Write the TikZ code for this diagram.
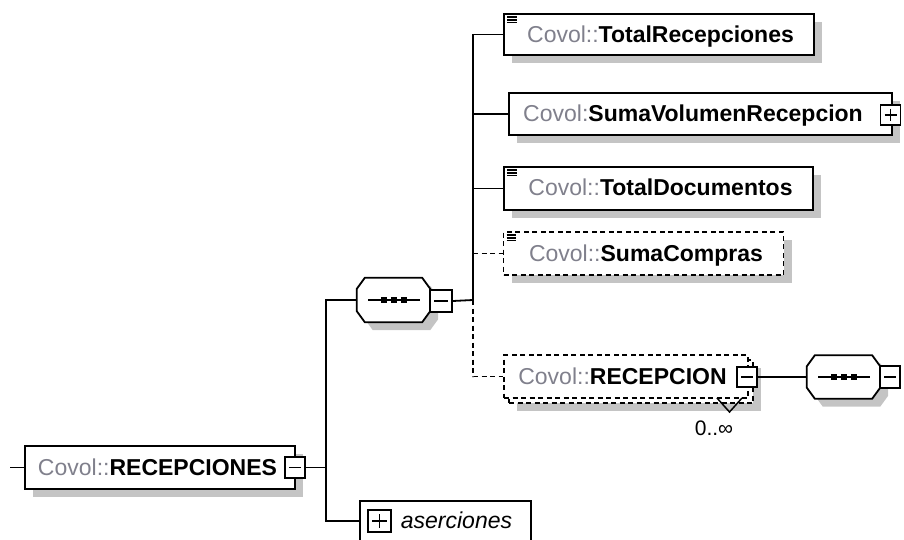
\documentclass[tikz,border=0pt]{standalone}
\usepackage{fontspec}
\setmainfont{Liberation Sans}
\usetikzlibrary{shadows,calc}
\definecolor{covolgray}{RGB}{128,128,140}
\definecolor{shadowgray}{RGB}{196,196,196}
\newcommand\cv[1]{\textcolor{covolgray}{#1}}
\newcommand\octpath[1]{([xshift=8pt]#1.north west) -- ([xshift=-8pt]#1.north east) -- ([yshift=-11pt]#1.north east) -- ([yshift=11pt]#1.south east) -- ([xshift=-8pt]#1.south east) -- ([xshift=8pt]#1.south west) -- ([yshift=11pt]#1.south west) -- ([yshift=-11pt]#1.north west) -- cycle}
\newcommand\seqinside[1]{%
  \draw[line width=1.6pt] ([xshift=-25.5pt]#1.center) -- ([xshift=26.5pt]#1.center);
  \foreach \d in {-9.5,0.5,10.5} \fill ([xshift=\d pt]#1.center) +(-2.9pt,-2.9pt) rectangle +(2.9pt,2.9pt);}
\newcommand\facet[1]{%
  \foreach \d in {4,6.8,9.6} \draw[line width=1.4pt] ([xshift=4pt,yshift=-\d pt]#1.north west) -- ++(9.5pt,0pt);}
\begin{document}
\begin{tikzpicture}[x=1pt,y=-1pt,line join=miter,
  lbl/.style={font=\fontsize{23}{27}\selectfont, inner sep=0, anchor=base},
  elem/.style={draw, fill=white, line width=1.8pt, inner sep=0,
    general shadow={fill=shadowgray, shadow xshift=8pt, shadow yshift=-8pt}},
  optelem/.style={elem, dash pattern=on 5pt off 3.5pt},
  plainelem/.style={draw, fill=white, line width=1.8pt, inner sep=0},
  conn/.style={line width=1.8pt},
  dconn/.style={conn, dash pattern=on 5pt off 3.5pt},
  seqn/.style={inner sep=0, minimum width=73, minimum height=44},
  minusbox/.style={draw, fill=white, line width=1.6pt, inner sep=0, minimum width=20, minimum height=20,
    path picture={\draw[line width=1.6pt] ([xshift=4pt]path picture bounding box.west) -- ([xshift=-4pt]path picture bounding box.east);}},
  plusbox/.style={draw, fill=white, line width=1.6pt, inner sep=0, minimum width=20, minimum height=20,
    path picture={\draw[line width=1.6pt] ([xshift=4pt]path picture bounding box.west) -- ([xshift=-4pt]path picture bounding box.east)
      ([yshift=-4pt]path picture bounding box.north) -- ([yshift=4pt]path picture bounding box.south);}}
]
\useasboundingbox (0,0) rectangle (904,540);

% ---- junctions
\coordinate (start) at (10,467.5);
\coordinate (j1) at (326,467.5);
\coordinate (j2) at (473,300);

% ---- RECEPCIONES
\node[elem, minimum width=270, minimum height=43] (rc) at (160,467.5) {};
\node[lbl] (rct) at (157.5,475.5) {\cv{Covol::}\textbf{RECEPCIONES}};
\node[minusbox, minimum height=21] (rcx) at (295,467.5) {};

% ---- aserciones
\node[plainelem, minimum width=171, minimum height=60, anchor=north west] (as) at (359,500) {};
\node[plusbox, minimum width=23, minimum height=22] (asx) at (379.5,521) {};
\node[lbl, font=\fontsize{23}{27}\selectfont\itshape] (ast) at (456.5,528.5) {aserciones};

% ---- sequence 1
\node[seqn] (s1) at (393.5,300) {};
\fill[shadowgray, transform canvas={shift={(8pt,-8pt)}}] \octpath{s1};
\draw[line width=1.8pt, fill=white] \octpath{s1};
\seqinside{s1}
\node[minusbox, minimum width=22, minimum height=22] (s1x) at (441,301) {};

% ---- children
\node[elem, minimum width=310, minimum height=41] (tr) at (659,34.5) {};
\facet{tr}
\node[lbl] (trt) at (660.5,42.5) {\cv{Covol::}\textbf{TotalRecepciones}};

\node[elem, minimum width=383, minimum height=42] (sv) at (700.5,114) {};
\node[lbl] (svt) at (693,121.5) {\cv{Covol:}\textbf{SumaVolumenRecepcion}};
\node[plusbox] (svx) at (890.5,115) {};

\node[elem, minimum width=309, minimum height=43] (td) at (658.5,188.5) {};
\facet{td}
\node[lbl] (tdt) at (660.5,196) {\cv{Covol::}\textbf{TotalDocumentos}};

\node[optelem, minimum width=280, minimum height=43] (sc) at (643.5,253.5) {};
\facet{sc}
\node[lbl] (sct) at (646,261) {\cv{Covol::}\textbf{SumaCompras}};

% ---- RECEPCION (multiple)
\node[optelem, minimum width=244, minimum height=43] (rb) at (631,381.5) {};
\node[draw, fill=white, line width=1.8pt, dash pattern=on 5pt off 3.5pt, inner sep=0, minimum width=244, minimum height=43] (rf) at (626,376.5) {};
\node[lbl] (rft) at (622.5,384) {\cv{Covol::}\textbf{RECEPCION}};
\node[minusbox] (rfx) at (747,377) {};
\coordinate (va) at (717,398);
\coordinate (vb) at (729.5,412);
\coordinate (vc) at (742,398);
\draw[line width=1.5pt] (va) -- (vb) -- (vc);
\node[lbl, font=\fontsize{21}{25}\selectfont] (occ) at (714,435) {0..∞};

% ---- sequence 2
\node[seqn, minimum height=43] (s2) at (843.5,377) {};
\fill[shadowgray, transform canvas={shift={(8pt,-8pt)}}] \octpath{s2};
\draw[line width=1.8pt, fill=white] \octpath{s2};
\seqinside{s2}
\node[minusbox, minimum height=22] (s2x) at (890,377) {};

% ---- connectors
\draw[conn] (start) -- (rc.west);
\draw[conn] (rcx.east) -- (j1);
\draw[conn] (j1) |- (s1.west);
\draw[conn] (j1) |- (as.west |- asx);
\draw[dconn] (j2 |- sc.west) -- (sc.west);
\draw[dconn] (j2) |- (rf.west);
\draw[conn] (s1x.east) -- (j2);
\draw[conn] (j2) |- (tr.west);
\draw[conn] (j2) |- (sv.west);
\draw[conn] (j2) |- (td.west);
\draw[conn] (rfx.east) -- (s2.west);
\end{tikzpicture}
\end{document}
